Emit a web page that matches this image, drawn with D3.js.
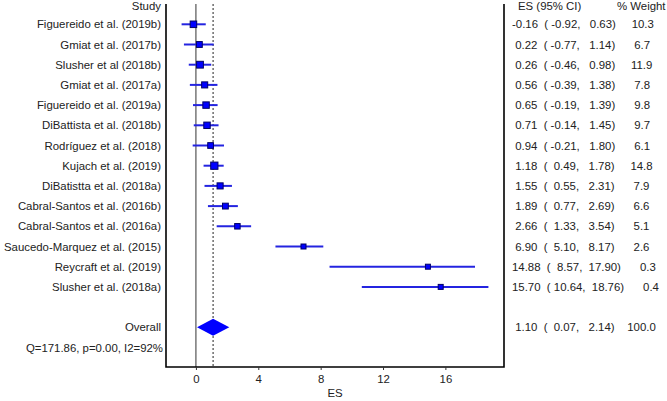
<!DOCTYPE html>
<html><head><meta charset="utf-8">
<script src="https://cdn.jsdelivr.net/npm/d3@7"></script>
<style>
html,body{margin:0;padding:0;background:#fff;}
svg text{font-family:"Liberation Sans",Arial,sans-serif;font-size:11.4px;fill:#222;white-space:pre;}
</style></head>
<body><svg id="c" width="667" height="401"></svg>
<script>
const studies = ["Figuereido et al. (2019b)","Gmiat et al. (2017b)","Slusher et al (2018b)","Gmiat et al. (2017a)","Figuereido et al. (2019a)","DiBattista et al. (2018b)","Rodríguez et al. (2018)","Kujach et al. (2019)","DiBatistta et al. (2018a)","Cabral-Santos et al. (2016b)","Cabral-Santos et al. (2016a)","Saucedo-Marquez et al. (2015)","Reycraft et al. (2019)","Slusher et al. (2018a)"];
const es = [-0.16,0.22,0.26,0.56,0.65,0.71,0.94,1.18,1.55,1.89,2.66,6.90,14.88,15.70];
const lo = [-0.92,-0.77,-0.46,-0.39,-0.19,-0.14,-0.21,0.49,0.55,0.77,1.33,5.10,8.57,10.64];
const hi = [0.63,1.14,0.98,1.38,1.39,1.45,1.80,1.78,2.31,2.69,3.54,8.17,17.90,18.76];
const weight = [10.3,6.7,11.9,7.8,9.8,9.7,6.1,14.8,7.9,6.6,5.1,2.6,0.3,0.4];
const overall = {label:"Overall", es:1.10, lo:0.07, hi:2.14, weight:100.0};
const heterogeneity = "Q=171.86, p=0.00, I2=92%";
const xTicks = [0,4,8,12,16];

const svg = d3.select("#c");
const x = d3.scaleLinear().domain([-1.92,19.76]).range([166,504]);
const y = d3.scaleLinear().domain([0,18]).range([4.1,367.7]);
const frameTop = 4, frameBottom = 367;

const pad = (v,w,d) => v.toFixed(d).padStart(w," ");
const rowStr = (e,l,h,w) => pad(e,5,2)+"  ("+pad(l,6,2)+", "+pad(h,6,2)+")    "+pad(w,5,1);

// headers
svg.append("text").attr("x",161).attr("y",6).attr("text-anchor","end").attr("dominant-baseline","central").text("Study");
svg.append("text").attr("x",518).attr("y",6).attr("dominant-baseline","central").text("ES (95% CI)");
svg.append("text").attr("x",617).attr("y",6).attr("dominant-baseline","central").text("% Weight");

// zero line and overall dashed line
svg.append("line").attr("x1",x(0)).attr("x2",x(0)).attr("y1",frameTop).attr("y2",frameBottom).attr("stroke","#333").attr("stroke-width",1);
svg.append("line").attr("x1",x(overall.es)).attr("x2",x(overall.es)).attr("y1",frameTop).attr("y2",frameBottom).attr("stroke","#222").attr("stroke-width",1).attr("stroke-dasharray","2,2");

// studies
const rows = studies.map((s,i)=>({s,es:es[i],lo:lo[i],hi:hi[i],w:weight[i],r:i+1}));
const g = svg.append("g");
g.selectAll("line.ci").data(rows).join("line").attr("class","ci")
 .attr("x1",d=>x(d.lo)).attr("x2",d=>x(d.hi)).attr("y1",d=>y(d.r)).attr("y2",d=>y(d.r))
 .attr("stroke","#2424e0").attr("stroke-width",2);
g.selectAll("rect.box").data(rows).join("rect").attr("class","box")
 .each(function(d){
   const s = Math.max(5, 3 + 1.1*Math.sqrt(d.w));
   d3.select(this).attr("x",x(d.es)-s/2).attr("y",y(d.r)-s/2).attr("width",s).attr("height",s);
 })
 .attr("fill","#0000ff").attr("stroke","#000066").attr("stroke-width",1);
g.selectAll("text.lab").data(rows).join("text").attr("class","lab")
 .attr("x",161).attr("y",d=>y(d.r)).attr("text-anchor","end").attr("dominant-baseline","central").text(d=>d.s);
g.selectAll("text.val").data(rows).join("text").attr("class","val")
 .attr("x",512).attr("y",d=>y(d.r)).attr("dominant-baseline","central").text(d=>rowStr(d.es,d.lo,d.hi,d.w));

// overall
const oy = y(16);
svg.append("path").attr("d",`M${x(overall.lo)},${oy}L${x(overall.es)},${oy-8.5}L${x(overall.hi)},${oy}L${x(overall.es)},${oy+8.5}Z`).attr("fill","#0000ff");
svg.append("text").attr("x",161).attr("y",oy).attr("text-anchor","end").attr("dominant-baseline","central").text(overall.label);
svg.append("text").attr("x",512).attr("y",oy).attr("dominant-baseline","central").text(rowStr(overall.es,overall.lo,overall.hi,overall.weight));
svg.append("text").attr("x",163).attr("y",y(17)).attr("text-anchor","end").attr("dominant-baseline","central").text(heterogeneity);

// frame
svg.append("path").attr("d",`M${x.range()[0]},${frameTop}V${frameBottom}H${x.range()[1]}V${frameTop}`).attr("fill","none").attr("stroke","#000").attr("stroke-width",1.6);

// axis
const ax = svg.append("g").attr("transform",`translate(0,${frameBottom})`)
 .call(d3.axisBottom(x).tickValues(xTicks).tickSize(3).tickPadding(5).tickFormat(d3.format("d")));
ax.select(".domain").remove();
ax.selectAll(".tick line").attr("stroke","#333");
ax.selectAll(".tick text").attr("font-family","Liberation Sans, Arial, sans-serif").attr("font-size","11.4px").attr("fill","#222");
svg.append("text").attr("x",335).attr("y",393).attr("text-anchor","middle").attr("dominant-baseline","central").text("ES");
</script></body></html>
